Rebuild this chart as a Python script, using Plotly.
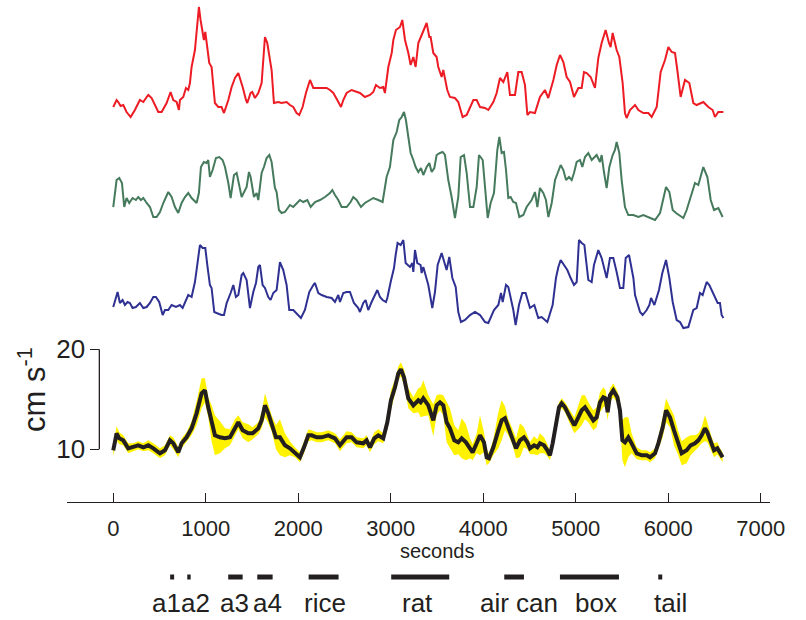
import plotly.graph_objects as go

# ---- running speed (cm s-1) of three individual animals and their mean ----
red_t = [0, 36, 54, 79, 108, 144, 188, 234, 288, 325,
         361, 379, 415, 451, 487, 523, 577, 620, 649, 685,
         710, 721, 757, 786, 811, 829, 847, 883, 901, 912,
         926, 944, 966, 980, 995, 1009, 1038, 1063, 1081, 1099,
         1135, 1171, 1197, 1218, 1244, 1280, 1316, 1352, 1377, 1399,
         1435, 1449, 1485, 1503, 1532, 1568, 1604, 1622, 1640, 1665,
         1694, 1712, 1737, 1784, 1820, 1874, 1910, 1946, 1982, 2011,
         2047, 2083, 2127, 2163, 2235, 2307, 2343, 2379, 2422, 2462,
         2487, 2523, 2577, 2631, 2667, 2721, 2775, 2811, 2840, 2883,
         2919, 2937, 2974, 3010, 3028, 3056, 3100, 3125, 3154, 3190,
         3215, 3244, 3269, 3298, 3323, 3370, 3388, 3417, 3431, 3460,
         3496, 3514, 3550, 3568, 3611, 3640,
         3694, 3730, 3777, 3821, 3857, 3893, 3929, 3965, 4019, 4055,
         4109, 4145, 4181, 4217, 4260, 4289, 4343, 4379, 4415, 4451,
         4477, 4505, 4559, 4613, 4667, 4703, 4758, 4794, 4830, 4866,
         4902, 4938, 4981, 5028, 5064, 5089, 5118, 5161, 5208, 5244,
         5280, 5309, 5323, 5359, 5377, 5399, 5442, 5471, 5507, 5532,
         5550, 5586, 5641, 5677, 5731, 5785, 5821, 5875, 5918, 5965,
         6001, 6037, 6073, 6098, 6134, 6181, 6228, 6271, 6307, 6379,
         6433, 6480, 6505, 6541, 6596]
red_v = [10.3, 11.0, 10.8, 10.4, 10.5, 9.8, 9.3, 10.0, 11.0, 10.8,
         11.3, 11.5, 11.2, 10.5, 9.8, 9.8, 10.7, 11.8, 11.0, 10.8,
         10.0, 11.0, 11.3, 12.2, 12.0, 12.7, 14.3, 16.0, 17.7, 18.7,
         20.3, 19.0, 18.0, 17.0, 17.8, 16.7, 14.7, 14.3, 12.7, 10.7,
         10.3, 10.3, 9.7, 10.3, 11.0, 12.3, 13.2, 13.7, 13.0, 12.3,
         11.0, 10.7, 11.7, 11.8, 11.2, 11.7, 12.7, 15.3, 17.3, 16.7,
         15.0, 14.0, 10.7, 10.8, 10.7, 10.8, 10.5, 10.3, 9.7, 9.5,
         10.3, 11.7, 13.0, 12.2, 12.2, 12.2, 12.0, 11.7, 11.0, 10.3,
         11.0, 11.7, 12.0, 11.8, 11.7, 11.3, 11.5, 11.8, 12.5, 12.2,
         12.3, 11.7, 14.3, 15.7, 17.0, 18.0, 18.3, 19.0, 17.0, 15.7,
         14.5, 15.3, 14.3, 16.7, 17.3, 18.3, 18.7, 17.3, 17.3, 15.7,
         15.3, 14.3, 13.3, 14.0, 12.0, 11.3,
         11.2, 10.8, 9.3, 9.5, 10.3, 11.0, 11.0, 10.3, 10.2, 10.0,
         10.8, 11.7, 13.2, 12.8, 13.8, 11.5, 11.5, 13.8, 13.8, 12.5,
         9.5, 9.8, 9.7, 11.3, 12.0, 11.2, 13.0, 14.5, 15.5, 14.8,
         13.3, 12.8, 11.3, 12.2, 12.2, 13.8, 13.7, 13.3, 12.2, 15.2,
         16.7, 17.7, 18.0, 16.7, 16.3, 17.7, 16.0, 15.3, 12.7, 9.7,
         9.2, 10.0, 10.5, 10.0, 9.7, 9.7, 9.3, 10.3, 13.8, 15.0,
         16.3, 15.8, 15.7, 14.0, 11.3, 13.0, 12.7, 10.7, 10.5, 10.8,
         10.3, 10.0, 9.3, 9.8, 9.8]

green_t = [0, 36, 65, 94, 119, 144, 173, 209, 245, 270,
           299, 325, 361, 397, 433, 469, 505, 541, 595, 631,
           667, 703, 739, 775, 811, 847, 901, 926, 948, 980,
           1009, 1027, 1045, 1074, 1110, 1146, 1182, 1208, 1244, 1269,
           1305, 1334, 1388, 1442, 1467, 1485, 1521, 1550, 1568, 1604,
           1629, 1658, 1687, 1712, 1748, 1766, 1791, 1820, 1856, 1910,
           1946, 1982, 2018, 2054, 2098, 2134, 2181, 2235, 2289, 2343,
           2368, 2397, 2433, 2469, 2523, 2566, 2595, 2631, 2678, 2721,
           2775, 2811, 2865, 2912, 2955, 2991, 3028, 3064, 3092, 3118,
           3143, 3164, 3190, 3215, 3244, 3269, 3298, 3327, 3352, 3388,
           3417, 3442, 3471, 3496, 3532, 3561,
           3586, 3622, 3658, 3694, 3730, 3756, 3792, 3821, 3857,
           3893, 3929, 3954, 3994, 4019, 4048, 4080, 4116, 4152, 4174,
           4199, 4224, 4246, 4271, 4296, 4325, 4354, 4390, 4433, 4469,
           4523, 4559, 4585, 4613, 4649, 4678, 4704, 4740, 4776, 4812,
           4837, 4866, 4895, 4927, 4956, 4981, 5010, 5046, 5071, 5100,
           5136, 5172, 5226, 5262, 5280, 5305, 5334, 5363, 5399, 5424,
           5442, 5471, 5496, 5532, 5568, 5622, 5677, 5731, 5803, 5857,
           5911, 5947, 5976, 6012, 6048, 6084, 6163, 6199, 6253, 6289,
           6325, 6379, 6423, 6459, 6495, 6542, 6588]
green_v = [11.1, 13.8, 14.0, 13.5, 11.1, 12.0, 11.5, 12.0, 11.8, 12.1,
           11.8, 12.0, 11.5, 11.1, 10.1, 10.1, 10.6, 11.5, 12.6, 12.1,
           11.1, 10.5, 11.5, 12.1, 12.5, 12.0, 11.5, 12.5, 15.1, 15.6,
           15.5, 15.8, 14.1, 14.8, 16.0, 16.1, 15.8, 15.1, 13.5, 12.0,
           14.3, 14.5, 12.1, 13.1, 14.6, 14.1, 12.1, 12.5, 11.8, 14.5,
           15.1, 16.0, 16.3, 15.6, 13.0, 12.6, 10.8, 10.5, 10.6, 11.3,
           11.1, 11.5, 11.8, 11.6, 11.8, 11.1, 11.6, 11.8, 12.1, 12.5,
           12.8, 12.3, 11.8, 11.1, 11.1, 11.6, 12.1, 11.8, 11.1, 11.5,
           11.8, 12.0, 11.8, 11.6, 14.1, 15.1, 17.8, 18.6, 19.8, 20.1,
           20.6, 19.8, 18.1, 16.5, 15.8, 15.1, 14.6, 15.0, 14.3, 15.1,
           15.5, 14.6, 15.0, 16.3, 16.5, 16.6,
           16.3, 13.8, 12.1, 10.0, 12.1, 16.1, 16.3, 14.5, 11.1,
           11.1, 13.1, 16.3, 15.8, 13.1, 10.0, 11.5, 12.5, 16.8, 18.1,
           16.5, 16.6, 14.8, 12.0, 12.1, 11.6, 11.5, 10.1, 10.3, 11.1,
           11.8, 12.6, 11.1, 13.0, 12.5, 11.8, 10.1, 11.5, 13.8, 14.8,
           15.3, 14.8, 13.8, 14.1, 13.8, 14.5, 15.6, 15.8, 15.1, 16.1,
           16.5, 15.8, 16.3, 15.6, 16.3, 14.6, 13.0, 15.1, 16.3, 16.8,
           17.6, 16.5, 13.8, 11.1, 10.3, 10.3, 10.1, 10.3, 10.0, 9.8,
           10.5, 12.1, 13.1, 12.6, 10.8, 10.5, 10.0, 10.8, 12.5, 13.5,
           13.3, 15.1, 14.1, 11.8, 10.8, 11.0, 10.1]

blue_t = [0, 29, 47, 72, 101, 126, 155, 180, 209, 245,
          288, 325, 361, 397, 433, 461, 497, 534, 559, 595,
          631, 678, 721, 750, 786, 811, 847, 883, 908, 937,
          966, 995, 1017, 1045, 1063, 1092, 1117, 1171, 1197, 1226,
          1269, 1298, 1326, 1352, 1388, 1406, 1442, 1478, 1514, 1543,
          1568, 1586, 1615, 1640, 1676, 1701, 1730, 1766, 1802, 1838,
          1874, 1903, 1946, 2000, 2029, 2072, 2119, 2163, 2181, 2217,
          2253, 2307, 2361, 2397, 2433, 2451, 2487, 2523, 2559, 2602,
          2649, 2667, 2703, 2728, 2757, 2793, 2829, 2855, 2883, 2912,
          2948, 2963, 2999, 3035, 3053, 3074, 3107, 3136, 3161, 3208,
          3233, 3244, 3262, 3287, 3323, 3334, 3352, 3406, 3449, 3478,
          3507, 3532, 3550, 3604, 3633,
          3666, 3702, 3730, 3759, 3803, 3857, 3911, 3965, 4019, 4055,
          4116, 4163, 4192, 4210, 4246, 4271, 4325, 4350, 4386, 4422,
          4458, 4505, 4552, 4595, 4631, 4667, 4693, 4750, 4786, 4812,
          4837, 4873, 4909, 4945, 4981, 5010, 5035, 5064, 5093, 5136,
          5172, 5197, 5244, 5280, 5334, 5370, 5406, 5442, 5478, 5514,
          5540, 5576, 5623, 5641, 5695, 5723, 5767, 5796, 5814, 5850,
          5882, 5900, 5936, 5976, 6012, 6048, 6091, 6127, 6163, 6217,
          6246, 6271, 6307, 6343, 6372, 6415, 6444, 6480, 6505, 6534,
          6559, 6577, 6596]
blue_v = [13.8, 14.8, 15.3, 14.2, 14.5, 14.0, 14.3, 14.2, 13.7, 13.8,
          14.2, 13.7, 13.8, 14.2, 14.8, 14.8, 14.3, 13.0, 13.5, 13.5,
          14.0, 13.8, 14.0, 13.7, 14.5, 15.0, 14.8, 16.3, 18.0, 20.0,
          19.7, 19.7, 18.0, 16.0, 15.7, 13.3, 13.2, 13.0, 13.0, 14.2,
          15.2, 16.0, 14.8, 15.0, 17.0, 17.2, 16.5, 13.7, 15.3, 16.2,
          17.8, 18.0, 16.0, 15.7, 14.8, 14.5, 15.2, 15.5, 18.3, 17.5,
          16.0, 13.5, 13.5, 13.0, 12.7, 13.5, 15.3, 16.0, 16.2, 15.2,
          15.0, 14.8, 14.7, 14.3, 15.0, 14.3, 15.2, 15.3, 15.3, 14.2,
          13.7, 13.3, 14.2, 14.5, 13.5, 14.3, 15.0, 15.5, 14.8, 14.5,
          14.3, 14.7, 16.3, 17.7, 19.0, 20.2, 20.0, 20.5, 18.2, 17.8,
          18.2, 17.3, 19.5, 18.2, 18.0, 17.2, 17.8, 16.0, 13.7, 15.3,
          18.0, 18.7, 19.2, 17.5, 18.8,
          16.7, 15.8, 13.3, 12.3, 12.5, 13.0, 13.3, 13.0, 12.3, 12.2,
          13.5, 14.0, 15.2, 14.3, 16.0, 15.8, 13.5, 12.0, 14.0, 15.2,
          15.2, 13.7, 14.0, 12.7, 12.8, 12.5, 12.3, 14.0, 16.7, 17.8,
          18.5, 18.0, 17.5, 16.7, 16.0, 16.3, 20.5, 20.2, 20.0, 16.5,
          16.3, 18.0, 19.5, 18.7, 16.7, 18.7, 18.7, 17.3, 15.7, 15.7,
          18.7, 19.0, 16.7, 15.0, 13.3, 13.0, 13.5, 14.0, 14.7, 14.0,
          15.0, 15.5, 17.2, 18.5, 16.7, 14.3, 12.5, 12.3, 11.7, 11.8,
          12.7, 13.5, 13.7, 15.2, 15.0, 16.3, 16.0, 15.3, 14.8, 14.2,
          14.2, 13.0, 12.7]

# group mean and its standard error
mean_t = [0, 36, 65, 108, 162, 216, 270, 325, 379, 433,
          505, 559, 613, 649, 703, 739, 793, 847, 901, 955,
          991, 1027, 1063, 1099, 1153, 1208, 1262, 1316, 1352, 1399,
          1460, 1507, 1568, 1604, 1640, 1676, 1712, 1759, 1802, 1856,
          1910, 1964, 2018, 2062, 2109, 2145, 2199, 2253, 2325, 2397,
          2451, 2523, 2577, 2631, 2703, 2739, 2775, 2822, 2865, 2919,
          2963, 3002, 3046, 3082, 3110, 3143, 3190, 3244, 3298, 3323,
          3352, 3406, 3460, 3496, 3532, 3568, 3604, 3640, 3687, 3730,
          3767, 3813, 3857, 3885, 3929, 3965, 4008, 4037, 4062, 4109,
          4163, 4199, 4235, 4271, 4318, 4354, 4397, 4440, 4477, 4505,
          4549, 4585, 4613, 4657, 4693, 4721, 4750, 4783, 4819, 4848,
          4884, 4938, 4985, 5028, 5064, 5100, 5136, 5190, 5226, 5262,
          5298, 5323, 5345, 5370, 5406, 5450, 5478, 5504, 5532, 5568,
          5604, 5659, 5713, 5767, 5803, 5857, 5893, 5940, 5976, 6019,
          6062, 6109, 6145, 6199, 6242, 6289, 6325, 6361, 6397, 6423,
          6459, 6495, 6531, 6559, 6588]
mean_v = [9.9, 11.6, 11.1, 10.9, 10.1, 10.2, 10.4, 10.2, 10.4, 10.1,
          9.6, 9.9, 10.9, 10.6, 9.7, 10.6, 11.2, 12.1, 13.6, 15.6,
          15.9, 14.2, 12.6, 11.4, 11.2, 11.1, 11.2, 12.2, 12.7, 11.9,
          11.6, 11.6, 12.1, 12.9, 14.4, 13.6, 12.6, 11.2, 11.2, 10.4,
          10.1, 9.7, 9.2, 10.2, 11.4, 11.4, 11.2, 11.2, 11.4, 11.1,
          10.4, 11.2, 11.2, 10.7, 10.6, 10.9, 10.2, 11.1, 11.4, 11.1,
          12.7, 14.9, 16.2, 17.6, 18.0, 17.2, 15.1, 14.4, 14.9, 14.7,
          15.1, 14.4, 12.9, 14.4, 14.7, 14.4, 12.7, 12.1, 10.9, 10.7,
          11.1, 10.7, 10.1, 9.7, 10.6, 11.4, 10.7, 9.2, 9.1, 10.2,
          11.9, 12.9, 13.1, 12.2, 11.2, 10.1, 10.9, 11.2, 10.7, 10.1,
          10.4, 10.2, 10.6, 10.4, 9.9, 9.4, 10.6, 12.6, 14.2, 14.6,
          14.2, 13.2, 12.4, 13.2, 13.9, 14.2, 13.7, 12.9, 13.2, 14.7,
          15.2, 15.1, 13.7, 15.4, 15.9, 15.2, 13.9, 10.9, 10.7, 11.2,
          10.6, 9.6, 9.4, 9.4, 9.2, 9.6, 10.6, 12.2, 13.9, 13.2,
          11.9, 10.6, 9.6, 9.9, 10.4, 10.6, 10.9, 11.4, 12.1, 11.7,
          10.7, 9.9, 10.1, 9.6, 9.2]
mean_sem = [0.6, 0.7, 0.6, 0.5, 0.5, 0.4, 0.4, 0.4, 0.5, 0.5,
            0.5, 0.5, 0.5, 0.6, 0.5, 0.5, 0.5, 0.7, 1.2, 1.5,
            1.2, 1.0, 1.8, 2.0, 1.6, 1.0, 0.8, 0.8, 0.7, 0.8,
            0.9, 0.6, 0.6, 0.8, 1.2, 1.0, 0.8, 1.2, 1.8, 1.2,
            0.7, 0.5, 0.5, 0.6, 0.6, 0.5, 0.5, 0.5, 0.5, 0.5,
            0.6, 0.6, 0.5, 0.5, 0.5, 0.5, 0.5, 0.6, 0.6, 0.5,
            0.8, 1.0, 0.8, 0.7, 0.7, 0.8, 1.0, 0.8, 1.2, 1.5,
            1.8, 1.0, 1.6, 1.0, 0.8, 1.0, 2.0, 2.0, 1.5, 1.2,
            2.0, 1.8, 1.0, 0.8, 1.0, 2.0, 1.0, 0.8, 0.5, 0.8,
            1.8, 2.0, 1.2, 0.8, 0.8, 1.0, 1.7, 1.0, 0.7, 0.6,
            0.9, 0.8, 1.0, 0.8, 0.6, 0.5, 0.6, 0.6, 0.5, 0.5,
            0.5, 0.7, 0.8, 1.2, 1.5, 1.2, 1.0, 1.0, 1.0, 1.0,
            1.0, 0.8, 0.8, 0.7, 0.7, 0.6, 1.0, 2.0, 2.5, 2.0,
            1.0, 0.6, 0.5, 0.5, 0.5, 0.5, 0.6, 1.0, 1.2, 1.0,
            1.5, 1.2, 1.2, 1.3, 1.0, 0.8, 0.7, 0.8, 1.3, 1.0,
            0.8, 0.7, 0.6, 0.5, 0.5]

# behavioural episodes (start / end in seconds) and where their names sit
event_names = ["a1", "a2", "a3", "a4", "rice", "rat", "air can", "box", "tail"]
event_start = [615, 800, 1243, 1557, 2112, 3005, 4227, 4829, 5892]
event_end = [658, 837, 1399, 1723, 2436, 3632, 4440, 5467, 5935]
event_label_x = [577, 892, 1310, 1667, 2289, 3289, 4388, 5218, 6024]

x_ticks = [0, 1000, 2000, 3000, 4000, 5000, 6000, 7000]
y_ticks = [10, 20]

# ---- styling ----
FONT = "Liberation Sans, Arial, Helvetica, sans-serif"
INK = "#231f20"
RED = "#ed1c24"
GREEN = "#467a5c"
BLUE = "#2e3192"
YELLOW = "#fff200"

BOTTOM = 0.1898          # paper height of the time axis
AXIS_X = 0.046           # paper x of the speed axis

fig = go.Figure()

for t, v, col, ax in [(red_t, red_v, RED, "y4"),
                      (green_t, green_v, GREEN, "y3"),
                      (blue_t, blue_v, BLUE, "y2")]:
    fig.add_trace(go.Scatter(x=t, y=v, yaxis=ax, mode="lines",
                             line=dict(color=col, width=2),
                             hoverinfo="skip", showlegend=False))

upper = [m + s for m, s in zip(mean_v, mean_sem)]
lower = [m - s for m, s in zip(mean_v, mean_sem)]
fig.add_trace(go.Scatter(x=mean_t, y=upper, mode="lines", line=dict(width=0),
                         hoverinfo="skip", showlegend=False))
fig.add_trace(go.Scatter(x=mean_t, y=lower, mode="lines", line=dict(width=0),
                         fill="tonexty", fillcolor=YELLOW,
                         hoverinfo="skip", showlegend=False))
fig.add_trace(go.Scatter(x=mean_t, y=mean_v, mode="lines",
                         line=dict(color=INK, width=4),
                         hoverinfo="skip", showlegend=False))

# episode bars
ex, ey = [], []
for s, e in zip(event_start, event_end):
    ex += [s, e, None]
    ey += [0, 0, None]
fig.add_trace(go.Scatter(x=ex, y=ey, yaxis="y5", mode="lines",
                         line=dict(color=INK, width=5),
                         hoverinfo="skip", showlegend=False))

annotations = []
for name, lx in zip(event_names, event_label_x):
    annotations.append(dict(x=lx, y=-0.605, xref="x", yref="y5", text=name,
                            showarrow=False, xanchor="center", yanchor="middle",
                            font=dict(family=FONT, size=26, color=INK)))
annotations.append(dict(x=3500, y=0.6, xref="x", yref="y5", text="seconds",
                        showarrow=False, xanchor="center", yanchor="middle",
                        font=dict(family=FONT, size=20, color=INK)))
annotations.append(dict(x=-0.0498, y=0.3726, xref="paper", yref="paper",
                        text="cm s<sup>-1</sup>", textangle=-90,
                        showarrow=False, xanchor="center", yanchor="middle",
                        font=dict(family=FONT, size=31, color=INK)))

hidden = dict(visible=False, domain=[BOTTOM, 1], anchor="x", overlaying="y")

fig.update_layout(
    width=806, height=620,
    margin=dict(l=67, r=36, t=0, b=0),
    paper_bgcolor="white", plot_bgcolor="white",
    showlegend=False,
    xaxis=dict(range=[-500, 7100], anchor="free", position=BOTTOM,
               showline=True, linecolor=INK, linewidth=1.3,
               ticks="inside", ticklen=9, tickwidth=1.3, tickcolor=INK,
               ticklabelstandoff=6,
               tickvals=x_ticks, tickfont=dict(family=FONT, size=22, color=INK),
               showgrid=False, zeroline=False),
    yaxis=dict(domain=[BOTTOM, 1], range=[4.7, 54.93], anchor="free",
               position=AXIS_X, showline=False,
               ticks="outside", ticklen=9, tickwidth=1.3, tickcolor=INK,
               tickvals=y_ticks, tickfont=dict(family=FONT, size=26, color=INK),
               showgrid=False, zeroline=False),
    yaxis2=dict(range=[-5.73, 44.5], **hidden),
    yaxis3=dict(range=[-18.43, 31.8], **hidden),
    yaxis4=dict(range=[-29.23, 21.0], **hidden),
    yaxis5=dict(visible=False, domain=[0, BOTTOM], range=[-1, 1.737], anchor="x"),
    annotations=annotations,
    shapes=[dict(type="line", xref="paper", yref="y", x0=AXIS_X, x1=AXIS_X,
                 y0=10, y1=20, line=dict(color=INK, width=1.3))],
)

fig.write_html("out.html")
